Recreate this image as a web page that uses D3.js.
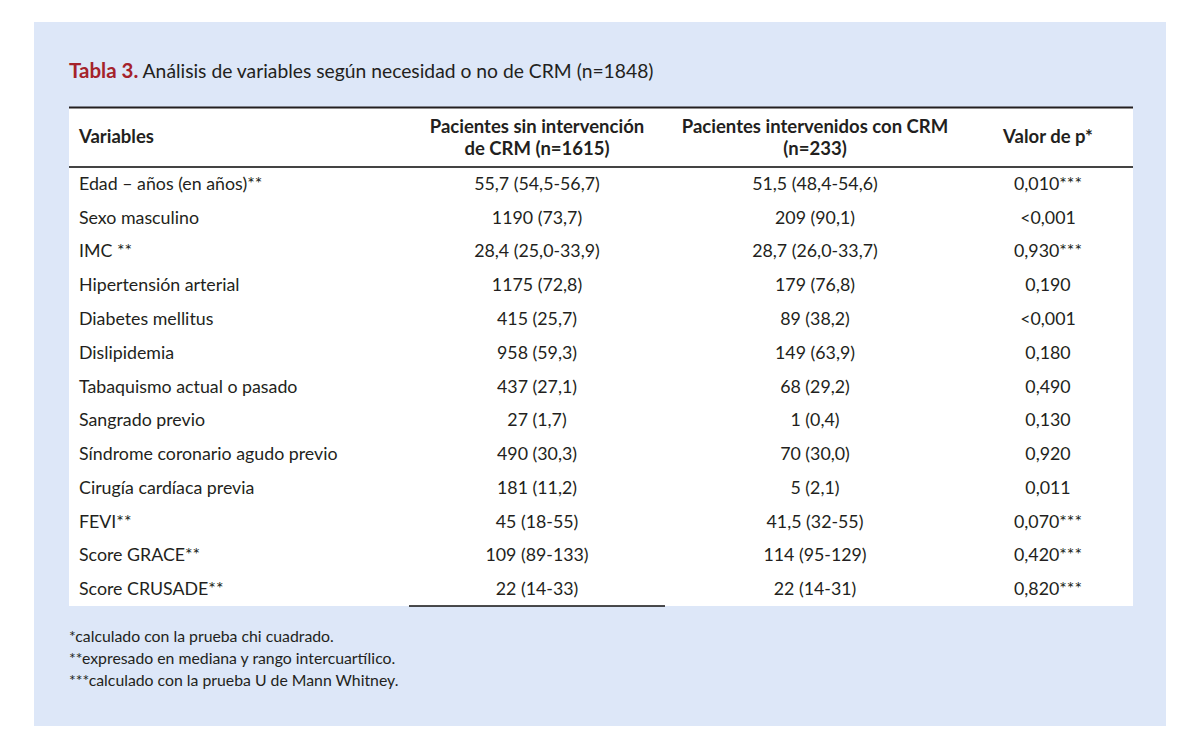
<!DOCTYPE html>
<html><head><meta charset="utf-8">
<script src="https://cdn.jsdelivr.net/npm/d3@7"></script>
<style>body{margin:0;background:#fff;} svg{display:block;}</style>
</head><body>
<svg id="c" width="1200" height="748"></svg>
<script>
const titleBold = "Tabla 3.";
const titleRest = " Análisis de variables según necesidad o no de CRM (n=1848)";
const headers = [["Variables"], ["Pacientes sin intervención", "de CRM (n=1615)"], ["Pacientes intervenidos con CRM", "(n=233)"], ["Valor de p*"]];
const variables = ["Edad – años (en años)**", "Sexo masculino", "IMC **", "Hipertensión arterial", "Diabetes mellitus", "Dislipidemia", "Tabaquismo actual o pasado", "Sangrado previo", "Síndrome coronario agudo previo", "Cirugía cardíaca previa", "FEVI**", "Score GRACE**", "Score CRUSADE**"];
const sinCRM = ["55,7 (54,5-56,7)", "1190 (73,7)", "28,4 (25,0-33,9)", "1175 (72,8)", "415 (25,7)", "958 (59,3)", "437 (27,1)", "27 (1,7)", "490 (30,3)", "181 (11,2)", "45 (18-55)", "109 (89-133)", "22 (14-33)"];
const conCRM = ["51,5 (48,4-54,6)", "209 (90,1)", "28,7 (26,0-33,7)", "179 (76,8)", "89 (38,2)", "149 (63,9)", "68 (29,2)", "1 (0,4)", "70 (30,0)", "5 (2,1)", "41,5 (32-55)", "114 (95-129)", "22 (14-31)"];
const pValues = ["0,010***", "<0,001", "0,930***", "0,190", "<0,001", "0,180", "0,490", "0,130", "0,920", "0,011", "0,070***", "0,420***", "0,820***"];
const footnotes = ["*calculado con la prueba chi cuadrado.", "**expresado en mediana y rango intercuartílico.", "***calculado con la prueba U de Mann Whitney."];

const svg = d3.select("#c");
const FONT = "Lato, 'Open Sans', sans-serif";
const TXT = "#231f20";

svg.append("rect").attr("x", 34).attr("y", 22).attr("width", 1132).attr("height", 704).attr("fill", "#dde7f8");

const title = svg.append("text").attr("x", 69).attr("y", 78).attr("font-family", FONT).attr("font-size", 19.3).attr("fill", TXT);
title.append("tspan").attr("font-weight", "bold").attr("font-size", 20.5).attr("fill", "#a5222b").text(titleBold);
title.append("tspan").text(titleRest);

const tableLeft = 69, tableRight = 1133;
const rowY = d3.scaleBand().domain(d3.range(variables.length)).range([167, 606]).paddingInner(0).paddingOuter(0);

svg.append("rect").attr("x", tableLeft).attr("y", 107).attr("width", tableRight - tableLeft).attr("height", 606 - 107).attr("fill", "#fff");
svg.append("line").attr("x1", tableLeft).attr("x2", tableRight).attr("y1", 107.5).attr("y2", 107.5).attr("stroke", "#231f20").attr("stroke-width", 2);
svg.append("line").attr("x1", tableLeft).attr("x2", tableRight).attr("y1", 167).attr("y2", 167).attr("stroke", "#444").attr("stroke-width", 2);
svg.append("line").attr("x1", 409).attr("x2", 665).attr("y1", 606).attr("y2", 606).attr("stroke", "#111").attr("stroke-width", 1.5);

const colX = [79, 537, 815, 1048];
const colAnchor = ["start", "middle", "middle", "middle"];

headers.forEach((h, i) => {
  const t = svg.append("text").attr("font-family", FONT).attr("font-size", 18.5).attr("font-weight", "bold").attr("fill", TXT).attr("text-anchor", colAnchor[i]);
  const ys = h.length === 1 ? [143] : [133, 155];
  h.forEach((line, j) => t.append("tspan").attr("x", colX[i]).attr("y", ys[j]).text(line));
});

const cols = [variables, sinCRM, conCRM, pValues];
cols.forEach((arr, ci) => {
  svg.append("g").selectAll("text").data(arr).join("text")
    .attr("x", colX[ci]).attr("y", (d, i) => rowY(i) + rowY.bandwidth() / 2 + 6)
    .attr("text-anchor", colAnchor[ci]).attr("font-family", FONT).attr("font-size", 17.8).attr("fill", TXT)
    .text(d => d);
});

svg.append("g").selectAll("text").data(footnotes).join("text")
  .attr("x", 69).attr("y", (d, i) => 642 + i * 22)
  .attr("font-family", FONT).attr("font-size", 15.8).attr("fill", TXT).text(d => d);
</script>
</body></html>
